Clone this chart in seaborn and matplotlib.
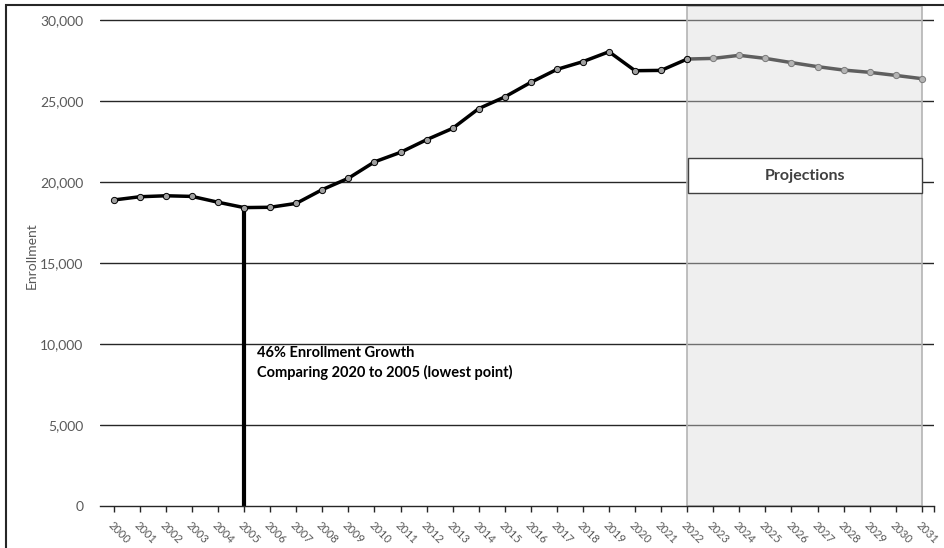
import matplotlib
matplotlib.use("Agg")
import matplotlib.pyplot as plt
import matplotlib.patches as mpatches
import seaborn as sns
import pandas as pd
import numpy as np

years = [str(y) for y in range(2000, 2032)]
actual_years = years[:23]          # 2000-2022
actual_vals = [18890, 19090, 19150, 19110, 18750, 18420, 18440, 18680, 19530, 20230,
               21240, 21830, 22610, 23310, 24530, 25250, 26150, 26950, 27430, 28040,
               26870, 26890, 27590]
proj_years = years[22:]            # 2022-2031
proj_vals = [27590, 27630, 27820, 27630, 27370, 27120, 26910, 26770, 26580, 26380]
ytick_vals = [0, 5000, 10000, 15000, 20000, 25000, 30000]
annot_text = "46% Enrollment Growth\nComparing 2020 to 2005 (lowest point)"
proj_label = "Projections"
low_year = "2005"

sns.set_theme(style="white")
plt.rcParams['font.family'] = ['Lato', 'DejaVu Sans']

W, H = 944, 548
fig = plt.figure(figsize=(W / 100, H / 100), dpi=100)
ax_left, ax_right, ax_top, ax_bot = 100, 934, 5, 506
ax = fig.add_axes([ax_left / W, 1 - ax_bot / H, (ax_right - ax_left) / W, (ax_bot - ax_top) / H])

idx = {y: i for i, y in enumerate(years)}
df_a = pd.DataFrame({"x": [idx[y] for y in actual_years], "v": actual_vals})
df_p = pd.DataFrame({"x": [idx[y] for y in proj_years], "v": proj_vals})

ymax = (ax_bot - ax_top) / (506 - 20) * 30000
ax.set_ylim(0, ymax)
ax.set_xlim(-0.53, 31.47)

# gridlines
for v in ytick_vals[1:]:
    ax.axhline(v, color="#262626", lw=1.0, zorder=1)

# projection shading
x0, x1 = idx[proj_years[0]], idx[proj_years[-1]]
rect = mpatches.Rectangle((x0, 0), x1 - x0, ymax * 0.998, facecolor=(0.85, 0.85, 0.85),
                          alpha=0.41, edgecolor="none", zorder=2)
ax.add_patch(rect)
rect_e = mpatches.Rectangle((x0, 0), x1 - x0, ymax * 0.998, facecolor="none",
                            edgecolor="#b4b4b4", lw=1.2, zorder=2.1)
ax.add_patch(rect_e)

# vertical line at low point
li = idx[low_year]
ax.plot([li, li], [0, actual_vals[li]], color="black", lw=3, zorder=3, solid_capstyle="butt")

sns.lineplot(data=df_a, x="x", y="v", ax=ax, color="black", lw=2.5, marker="o",
             markersize=4.5, markerfacecolor="#a0a0a0", markeredgecolor="black",
             markeredgewidth=0.7, zorder=5)
sns.lineplot(data=df_p, x="x", y="v", ax=ax, color="#5f5f5f", lw=2.5, marker="o",
             markersize=4.5, markerfacecolor="#b4b4b4", markeredgecolor="#7a7a7a",
             markeredgewidth=0.7, zorder=4)

# Projections box
bx0 = x0 + 0.03
ax.add_patch(mpatches.Rectangle((bx0, 19300), x1 - bx0, 2200, facecolor="white",
                                edgecolor="#404040", lw=1.0, zorder=6))
ax.text((bx0 + x1) / 2, 20400, proj_label, ha="center", va="center", fontsize=11.5,
        fontweight="bold", color="#404040", zorder=7)

ax.text(li + 0.5, 8800, annot_text, ha="left", va="center", fontsize=10.5,
        fontweight="bold", color="black", linespacing=1.4, zorder=7)

# axes styling
for s in ["left", "right", "top"]:
    ax.spines[s].set_visible(False)
ax.spines["bottom"].set_color("#262626")
ax.spines["bottom"].set_linewidth(1.0)
ax.spines["bottom"].set_zorder(3)
ax.set_yticks(ytick_vals)
ax.set_yticklabels([f"{v:,}" for v in ytick_vals], fontsize=10, color="#595959")
ax.tick_params(axis="y", length=0, pad=12)
ax.set_xticks(range(len(years)))
ax.set_xticklabels(years, rotation=-45, ha="left", va="top", rotation_mode="anchor",
                   fontsize=8, color="#595959")
ax.tick_params(axis="x", bottom=True, length=4, width=1, color="#262626", direction="out", pad=6)
ax.set_xticks([31.47], minor=True)
ax.tick_params(axis="x", which="minor", bottom=True, length=4, width=1, color="#262626")
ax.set_xlabel("")
ax.set_ylabel("Enrollment", fontsize=10, color="#595959")
ax.yaxis.set_label_coords((38 - ax_left) / (ax_right - ax_left), 0.5)
ax.patch.set_alpha(0)

# figure border
fig.patches.append(mpatches.Rectangle((6 / W, -0.1), 1.2, (H - 5) / H + 0.1, transform=fig.transFigure,
                                      facecolor="none", edgecolor="#262626", lw=1.5))

fig.savefig("out.png", dpi=100)
